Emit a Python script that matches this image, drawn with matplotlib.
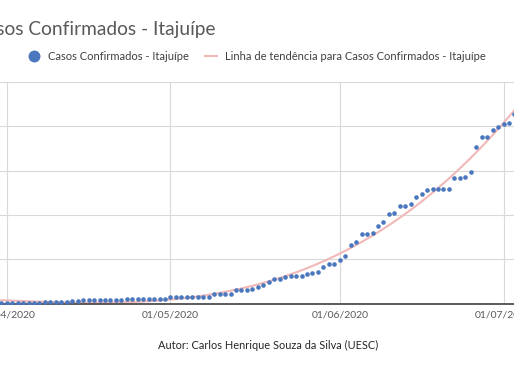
import numpy as np
import pandas as pd
import matplotlib
matplotlib.use("Agg")
import matplotlib.pyplot as plt
import matplotlib.dates as mdates

# casos confirmados acumulados, um valor por dia a partir de 31/03/2020
inicio = "2020-03-31"
casos = [1, 1, 1, 1, 1, 1, 1, 1,
         2, 2, 2, 2, 2,
         3, 3,
         4, 4, 4, 4, 4, 4, 4, 4,
         5, 5, 5, 5, 5, 5, 5, 5,
         7, 7, 7, 7, 7, 7, 7, 7,
         11, 11, 11, 11,
         15, 15, 15,
         16, 19, 21, 24, 28, 28, 30, 31, 31, 31, 33, 35, 36, 41, 45, 45, 49, 54,
         66, 69, 78, 79, 80, 88, 92, 101, 102, 110, 110, 112, 120, 124, 128, 129, 129, 129, 129,
         141, 142, 143, 148, 176, 188, 188, 196, 199, 202, 204, 214]
titulo = "Casos Confirmados - Itajuípe"
serie = "Casos Confirmados - Itajuípe"
tendencia = "Linha de tendência para Casos Confirmados - Itajuípe"
autor = "Autor: Carlos Henrique Souza da Silva (UESC)"

datas = pd.date_range(inicio, periods=len(casos), freq="D")
xn = mdates.date2num(datas)
x0 = mdates.date2num(pd.Timestamp("2020-04-01"))

# linha de tendencia polinomial (como no Excel)
coef = np.polyfit(xn - x0, casos, 3)
trend = np.polyval(coef, xn - x0)

plt.rcParams["font.family"] = ["Lato", "DejaVu Sans"]
W, H = 514, 371
fig = plt.figure(figsize=(W / 100, H / 100), dpi=100)

# eixo maior que a figura: o grafico original aparece recortado
px_dia = 5.46
px0 = 6.7
d_min, d_max = -20, 96
left = (px0 + px_dia * d_min) / W
width = px_dia * (d_max - d_min) / W
ax = fig.add_axes([left, (H - 303.7) / H, width, (303.7 - 81.7) / H])

ax.plot(xn, trend, color="#F2B8B8", lw=1.5, zorder=2, label=tendencia)
ax.plot(xn, casos, "o", ms=3.3, color="#4A77BD", mec="none", zorder=3, label=serie)

ax.set_xlim(x0 + d_min, x0 + d_max)
ax.set_ylim(0, 250)
ax.set_yticks(np.arange(0, 251, 50))
ax.xaxis.set_major_locator(mdates.MonthLocator())
ax.xaxis.set_major_formatter(mdates.DateFormatter("%d/%m/%Y"))
ax.grid(True, color="#D9D9D9", lw=0.8)
ax.set_axisbelow(True)
for s in ["top", "right", "left"]:
    ax.spines[s].set_visible(False)
ax.spines["bottom"].set_color("#404040")
ax.spines["bottom"].set_linewidth(1.2)
ax.tick_params(axis="x", length=0, pad=4.8, labelsize=7.5, labelcolor="#595959")
ax.tick_params(axis="y", length=0, labelleft=False)

fig.text(215 / W, 1 - 34.5 / H, titulo, ha="right", va="baseline",
         fontsize=13.75, color="#595959")

h, l = ax.get_legend_handles_labels()
fig.legend(h[::-1], l[::-1], ncol=2, loc="center", bbox_to_anchor=(257 / W, 1 - 56.5 / H),
           frameon=False, fontsize=8.0, labelcolor="#404040", markerscale=2.6,
           handlelength=1.05, handletextpad=0.75, columnspacing=1.5)

fig.text(268.5 / W, 1 - 345 / H, autor, ha="center", va="center", fontsize=7.9, color="#262626")

fig.savefig("out.png", dpi=100)
